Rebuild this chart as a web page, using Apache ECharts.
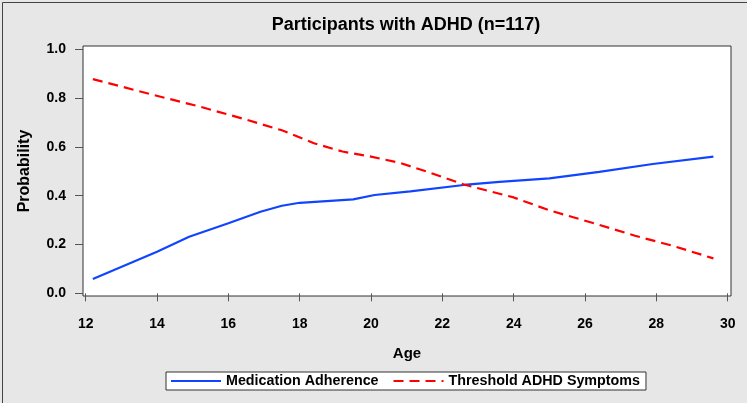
<!DOCTYPE html>
<html>
<head>
<meta charset="utf-8">
<script src="https://cdn.jsdelivr.net/npm/echarts@6/dist/echarts.min.js"></script>
<style>
html,body{margin:0;padding:0;background:#E7E7E7;}
#chart{width:747px;height:403px;}
</style>
</head>
<body>
<div id="chart"></div>
<script>
var titleText = 'Participants with ADHD (n=117)';
var xTicks = [12, 14, 16, 18, 20, 22, 24, 26, 28, 30];
var yTicks = [0, 0.2, 0.4, 0.6, 0.8, 1.0];
var seriesNames = ['Medication Adherence', 'Threshold ADHD Symptoms'];
var adherence = [
  [12.2, 0.059], [14.0, 0.170], [14.9, 0.232], [16.0, 0.287], [16.9, 0.334],
  [17.5, 0.359], [18.0, 0.371], [19.5, 0.385], [20.1, 0.403], [21.1, 0.418],
  [22.6, 0.444], [23.6, 0.457], [25.0, 0.471], [26.4, 0.498], [27.9, 0.530],
  [29.6, 0.560]
];
var symptoms = [
  [12.2, 0.878], [13.9, 0.813], [15.2, 0.765], [16.5, 0.712], [17.5, 0.668],
  [18.4, 0.615], [19.2, 0.581], [20.0, 0.560], [20.8, 0.535], [21.6, 0.497],
  [22.6, 0.446], [24.0, 0.393], [25.0, 0.340], [26.3, 0.285], [27.4, 0.236],
  [28.5, 0.193], [29.6, 0.143]
];

var FONT = '"Liberation Sans", Arial, sans-serif';
var chart = echarts.init(document.getElementById('chart'), null, {renderer: 'canvas'});
chart.setOption({
  backgroundColor: '#E7E7E7',
  animation: false,
  title: {
    text: titleText,
    left: 401,
    textAlign: 'center',
    top: 11,
    textStyle: {fontFamily: FONT, fontSize: 18, fontWeight: 'bold', color: '#000'}
  },
  legend: {
    left: 166,
    top: 372,
    backgroundColor: '#fff',
    borderColor: '#333',
    borderWidth: 1,
    padding: [2, 6, 2, 4],
    itemWidth: 50,
    itemHeight: 14,
    itemGap: 14,
    itemStyle: {color: 'rgba(0,0,0,0)', borderColor: 'rgba(0,0,0,0)', borderWidth: 0},
    textStyle: {fontFamily: FONT, fontSize: 14.3, fontWeight: 'bold', color: '#000'},
    data: seriesNames
  },
  grid: {
    left: 83, top: 46, width: 648, height: 250,
    show: true, backgroundColor: '#fff', borderColor: '#333', borderWidth: 1,
    containLabel: false
  },
  xAxis: {
    type: 'value',
    min: 11.924, max: 30.093,
    name: 'Age', nameLocation: 'middle', nameGap: 50,
    nameTextStyle: {fontFamily: FONT, fontSize: 15, fontWeight: 'bold', color: '#000'},
    axisLine: {show: false},
    axisTick: {show: true, length: 8, customValues: xTicks, lineStyle: {color: '#555', width: 1}},
    axisLabel: {customValues: xTicks, margin: 21, fontFamily: FONT, fontSize: 14, fontWeight: 'bold', color: '#000'},
    splitLine: {show: false}
  },
  yAxis: {
    type: 'value',
    min: -0.011, max: 1.0135,
    name: 'Probability', nameLocation: 'middle', nameGap: 50,
    nameTextStyle: {fontFamily: FONT, fontSize: 16, fontWeight: 'bold', color: '#000'},
    axisLine: {show: false},
    axisTick: {show: true, length: 8, customValues: yTicks, lineStyle: {color: '#555', width: 1}},
    axisLabel: {customValues: yTicks, margin: 17, fontFamily: FONT, fontSize: 14, fontWeight: 'bold', color: '#000',
      formatter: function (v) { return v.toFixed(1); }},
    splitLine: {show: false}
  },
  series: [
    {
      name: seriesNames[0], type: 'line', data: adherence, symbol: 'none',
      lineStyle: {color: '#1144FF', width: 2.2, type: 'solid'},
      itemStyle: {color: '#1144FF'}
    },
    {
      name: seriesNames[1], type: 'line', data: symptoms, symbol: 'none',
      lineStyle: {color: '#FF0000', width: 2.2, type: [10, 6]},
      itemStyle: {color: '#FF0000'}
    }
  ],
  graphic: [{
    type: 'rect', left: 0, top: 0, silent: true,
    shape: {x: 0.5, y: 0.5, width: 745, height: 401},
    style: {fill: null, stroke: '#444', lineWidth: 1}
  }]
});
</script>
</body>
</html>
